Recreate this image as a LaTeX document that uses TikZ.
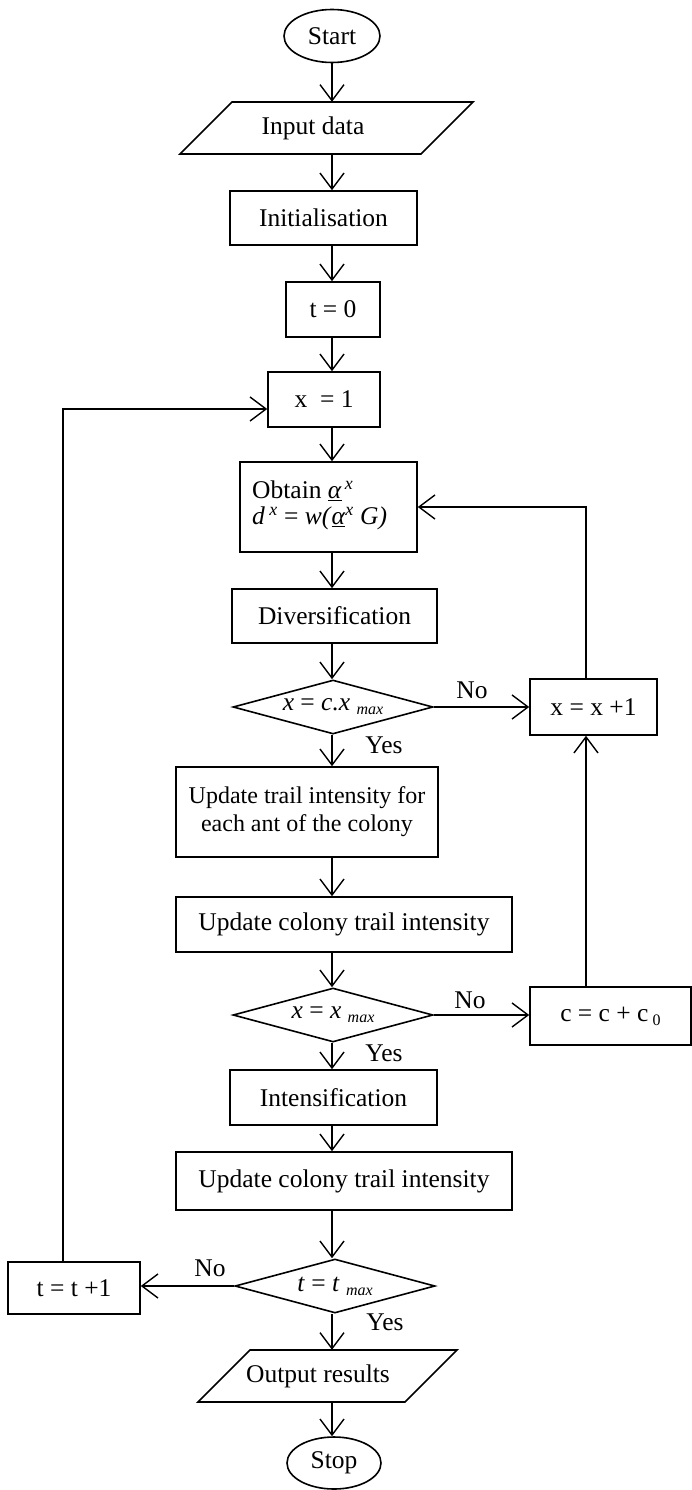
\documentclass[tikz,border=0pt]{standalone}
\usepackage{fontspec}
\setmainfont{Liberation Serif}
\usetikzlibrary{shapes.geometric,arrows.meta}
\newcommand\sbs[1]{\raisebox{-4pt}{\fontsize{16}{16}\selectfont #1}}
\tikzset{
  box/.style={draw, line width=1.6pt, inner sep=0pt, align=center},
  term/.style={draw, ellipse, line width=1.6pt, inner sep=0pt},
  dia/.style={draw, diamond, line width=1.6pt, inner sep=0pt, minimum width=200pt, minimum height=54pt},
  lbl/.style={inner sep=0pt},
  conn/.style={line width=1.4pt, -{Straight Barb[length=16pt,width=24pt,line width=1.4pt]}},
  plain/.style={line width=1.4pt}
}
\begin{document}
\begin{tikzpicture}[x=1pt,y=-1pt,every node/.style={font=\fontsize{25.5}{30}\selectfont}]
\useasboundingbox (0,0) rectangle (692,1490);
\coordinate (ax) at (332,0);
\coordinate (fb) at (586,0);
\coordinate (lp) at (63,409);

% terminals
\node[term, minimum width=96pt, minimum height=53pt] (start) at (332,36) {Start};
\node[term, minimum width=94pt, minimum height=52pt] (stop) at (334,1463) {Stop};

% input parallelogram
\node[lbl, minimum height=52pt] (input) at (313,128) {Input data};
\draw[line width=1.6pt] (232,102) -- (473,102) -- (421,154) -- (180,154) -- cycle;

% output parallelogram
\node[lbl, minimum height=52pt] (out) at (318,1376) {Output results};
\draw[line width=1.6pt] (250,1350) -- (457,1350) -- (405,1402) -- (198,1402) -- cycle;

% process boxes
\node[box, minimum width=187pt, minimum height=54pt] (init) at (323.5,218) {Initialisation};
\node[box, minimum width=94pt, minimum height=55pt] (t0) at (333,309.5) {t = 0};
\node[box, minimum width=112pt, minimum height=55pt] (x1) at (324,399.5) {x \ = 1};
\node[box, minimum width=177pt, minimum height=90pt] (obtain) at (328.5,507) {};
\node[lbl, align=left, anchor=west] (obtaintxt) at (252,505) {Obtain \underline{\textit{α}}\textsuperscript{\,\textit{x}}\\[-4pt]\textit{d}\,\textsuperscript{\textit{x}} = \textit{w(}\underline{\textit{α}}\textsuperscript{\textit{x}} \textit{G)}};
\node[box, minimum width=205pt, minimum height=54pt] (div) at (334.5,616) {Diversification};
\node[dia] (d1) at (333,707) {};
\node[lbl] (d1t) at (333,707) {\textit{x} = \textit{c.x} \sbs{\textit{max}}};
\node[box, minimum width=127pt, minimum height=56pt] (xx1) at (593.5,707) {x = x +1};
\node[box, minimum width=262pt, minimum height=90pt, font=\fontsize{24}{29}\selectfont] (upd) at (307,812) {Update trail intensity for\\[-1pt]each ant of the colony};
\node[box, minimum width=336pt, minimum height=55pt] (uc1) at (344,924.5) {Update colony trail intensity};
\node[dia] (d2) at (333,1015) {};
\node[lbl] (d2t) at (333,1015) {\textit{x} = \textit{x} \sbs{\textit{max}}};
\node[box, minimum width=161pt, minimum height=58pt] (cc) at (610.5,1016) {c = c + c\,\sbs{0}};
\node[box, minimum width=207pt, minimum height=55pt] (int) at (333.5,1097.5) {Intensification};
\node[box, minimum width=336pt, minimum height=58pt] (uc2) at (344,1181) {Update colony trail intensity};
\node[dia] (d3) at (335,1286) {};
\node[lbl] (d3t) at (335,1286) {\textit{t} = \textit{t} \sbs{\textit{max}}};
\node[box, minimum width=132pt, minimum height=52pt] (tt1) at (74,1288) {t = t +1};

% labels
\node[lbl] (no1) at (472,690) {No};
\node[lbl] (yes1) at (384,745) {Yes};
\node[lbl] (no2) at (470,1000) {No};
\node[lbl] (yes2) at (384,1053) {Yes};
\node[lbl] (no3) at (210,1268) {No};
\node[lbl] (yes3) at (385,1322) {Yes};

% main flow
\draw[conn] (start.south) -- (input.north -| ax);
\draw[conn] (input.south -| ax) -- (init.north -| ax);
\draw[conn] (init.south -| ax) -- (t0.north -| ax);
\draw[conn] (t0.south -| ax) -- (x1.north -| ax);
\draw[conn] (x1.south -| ax) -- (obtain.north -| ax);
\draw[conn] (obtain.south -| ax) -- (div.north -| ax);
\draw[conn] (div.south -| ax) -- (d1.north -| ax);
\draw[conn] (d1.south -| ax) -- (upd.north -| ax);
\draw[conn] (upd.south -| ax) -- (uc1.north -| ax);
\draw[conn] (uc1.south -| ax) -- (d2.north -| ax);
\draw[conn] (d2.south -| ax) -- (int.north -| ax);
\draw[conn] (int.south -| ax) -- (uc2.north -| ax);
\draw[conn] (uc2.south -| ax) -- (d3.north -| ax);
\draw[conn] (d3.south -| ax) -- (out.north -| ax);
\draw[conn] (out.south -| ax) -- (stop.north -| ax);

% side loops
\draw[conn] (d1.east) -- (xx1.west |- d1.east);
\draw[conn] (d2.east) -- (cc.west |- d2.east);
\draw[conn] (cc.north -| fb) -- (xx1.south -| fb);
\draw[conn] (xx1.north -| fb) |- (obtain.east);
\draw[conn] (d3.west) -- (tt1.east |- d3.west);
\draw[conn] (tt1.north -| lp) -- (lp) -- (x1.west |- lp);
\end{tikzpicture}
\end{document}
